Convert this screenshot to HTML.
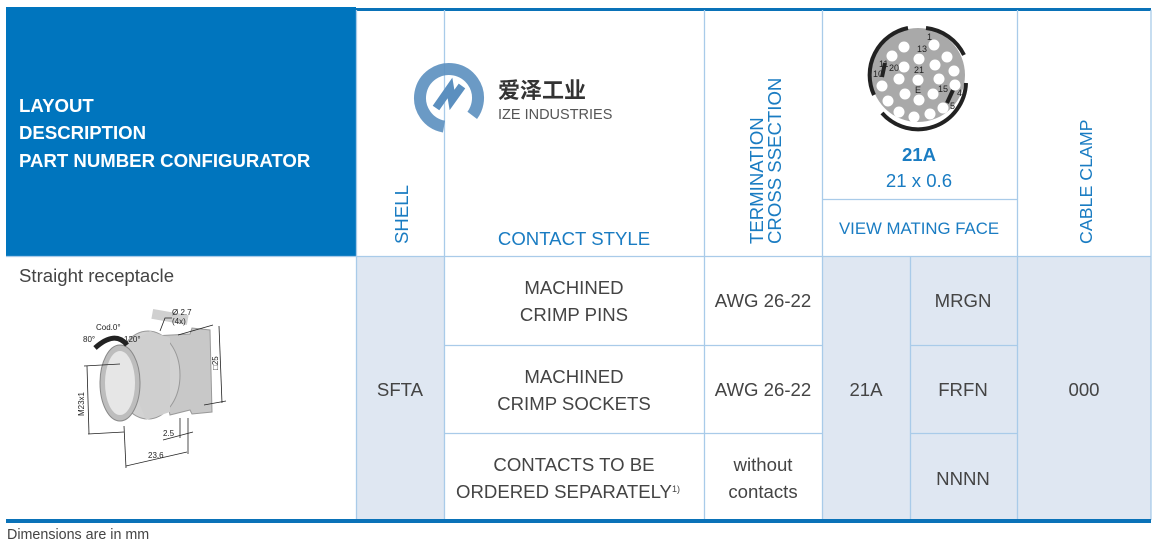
<!DOCTYPE html>
<html><head><meta charset="utf-8"><style>
html,body{margin:0;padding:0;background:#fff;}
svg{display:block;font-family:"Liberation Sans","Noto Sans CJK SC",sans-serif;}
</style></head><body>
<svg width="1160" height="543" viewBox="0 0 1160 543" xmlns="http://www.w3.org/2000/svg">
<rect x="356" y="256" width="88" height="264" fill="#dfe7f2"/>
<rect x="822" y="256" width="329" height="264" fill="#dfe7f2"/>
<rect x="6" y="7" width="350" height="249" fill="#0075be"/>
<rect x="356" y="8" width="795" height="3" fill="#0a72b8"/>
<g stroke="#a9cbe9" stroke-width="1.3" fill="none">
<line x1="6" y1="256.5" x2="1151" y2="256.5"/>
<line x1="356.5" y1="10" x2="356.5" y2="520"/>
<line x1="444.5" y1="10" x2="444.5" y2="520"/>
<line x1="704.5" y1="10" x2="704.5" y2="520"/>
<line x1="822.5" y1="10" x2="822.5" y2="520"/>
<line x1="910.5" y1="256" x2="910.5" y2="520"/>
<line x1="1017.5" y1="10" x2="1017.5" y2="520"/>
<line x1="1151" y1="10" x2="1151" y2="520"/>
<line x1="822" y1="199.5" x2="1017" y2="199.5"/>
<line x1="444" y1="345.5" x2="822" y2="345.5"/>
<line x1="444" y1="433.5" x2="822" y2="433.5"/>
<line x1="910" y1="345.5" x2="1017" y2="345.5"/>
<line x1="910" y1="433.5" x2="1017" y2="433.5"/>
</g>
<rect x="6" y="519" width="1145" height="4" fill="#0a72b8"/>
<g fill="#fff" font-weight="bold" font-size="18.6">
<text x="19" y="112">LAYOUT</text>
<text x="19" y="139">DESCRIPTION</text>
<text x="19" y="167">PART NUMBER CONFIGURATOR</text>
</g>
<g fill="#1a7cc2" font-size="18.6">
<text transform="translate(408,244) rotate(-90)">SHELL</text>
<text x="574" y="245" text-anchor="middle">CONTACT STYLE</text>
<text transform="translate(763,244) rotate(-90)">TERMINATION</text>
<text transform="translate(781,244) rotate(-90)">CROSS SSECTION</text>
<text transform="translate(1092,244) rotate(-90)" font-size="17.8">CABLE CLAMP</text>
<text x="919" y="234" text-anchor="middle" font-size="16.8">VIEW MATING FACE</text>
<text x="919" y="161" text-anchor="middle" font-weight="bold">21A</text>
<text x="919" y="187" text-anchor="middle">21 x 0.6</text>
</g>
<g>
<circle cx="449" cy="98" r="29" fill="none" stroke="#5b8fbf" stroke-width="12" stroke-dasharray="150 32" transform="rotate(100 449 98)" opacity="0.9"/>
<path d="M436 108 L450 88 L452 100 L462 86" stroke="#5b8fbf" stroke-width="8" fill="none"/>
<text x="498" y="98" font-size="22" fill="#333" font-family="'Noto Sans CJK SC',sans-serif" font-weight="bold">爱泽工业</text>
<text x="498" y="119" font-size="14.5" fill="#555">IZE INDUSTRIES</text>
</g>
<g transform="translate(0,5)">
<circle cx="918" cy="70" r="47" fill="#a9a9a9"/>
<g stroke="#222" stroke-width="4" fill="none">
<path d="M874 90 A48 48 0 0 1 908 23"/>
<path d="M926 23 A48 48 0 0 1 964 50"/>
<path d="M966 78 A48 48 0 0 1 882 108"/>
<line x1="885" y1="58" x2="882" y2="72"/>
<line x1="953" y1="85" x2="947" y2="98"/>
</g>
<g fill="#fff">
<circle cx="904" cy="42" r="5.5"/><circle cx="934" cy="40" r="5.5"/><circle cx="947" cy="52" r="5.5"/>
<circle cx="954" cy="66" r="5.5"/><circle cx="955" cy="80" r="5.5"/><circle cx="943" cy="103" r="5.5"/>
<circle cx="930" cy="109" r="5.5"/><circle cx="914" cy="112" r="5.5"/><circle cx="899" cy="107" r="5.5"/>
<circle cx="888" cy="96" r="5.5"/><circle cx="882" cy="81" r="5.5"/><circle cx="892" cy="51" r="5.5"/>
<circle cx="919" cy="54" r="5.5"/><circle cx="904" cy="62" r="5.5"/><circle cx="935" cy="60" r="5.5"/>
<circle cx="939" cy="74" r="5.5"/><circle cx="933" cy="89" r="5.5"/><circle cx="919" cy="95" r="5.5"/>
<circle cx="905" cy="89" r="5.5"/><circle cx="899" cy="74" r="5.5"/><circle cx="918" cy="75" r="5.5"/>
</g>
<g font-size="9" fill="#222">
<text x="927" y="35">1</text><text x="917" y="47">13</text><text x="879" y="62">11</text>
<text x="889" y="66">20</text><text x="914" y="68">21</text><text x="873" y="72">10</text>
<text x="915" y="88">E</text><text x="938" y="87">15</text><text x="957" y="91">4</text><text x="950" y="104">5</text>
</g>
</g>
<g fill="#444" font-size="18.6">
<text x="19" y="282">Straight receptacle</text>
<text x="400" y="396" text-anchor="middle">SFTA</text>
<text x="574" y="294" text-anchor="middle">MACHINED</text>
<text x="574" y="321" text-anchor="middle">CRIMP PINS</text>
<text x="574" y="383" text-anchor="middle">MACHINED</text>
<text x="574" y="410" text-anchor="middle">CRIMP SOCKETS</text>
<text x="574" y="471" text-anchor="middle">CONTACTS TO BE</text>
<text x="568" y="498" text-anchor="middle">ORDERED SEPARATELY<tspan font-size="9" dy="-6">1)</tspan></text>
<text x="763" y="307" text-anchor="middle">AWG 26-22</text>
<text x="763" y="396" text-anchor="middle">AWG 26-22</text>
<text x="763" y="471" text-anchor="middle">without</text>
<text x="763" y="498" text-anchor="middle">contacts</text>
<text x="866" y="396" text-anchor="middle">21A</text>
<text x="963" y="307" text-anchor="middle">MRGN</text>
<text x="963" y="396" text-anchor="middle">FRFN</text>
<text x="963" y="485" text-anchor="middle">NNNN</text>
<text x="1084" y="396" text-anchor="middle">000</text>
</g>
<text x="7" y="539" font-size="14.3" fill="#444">Dimensions are in mm</text>
<g>
<path d="M153 336 L190 334 L192 328 L210 330 L212 412 L192 414 L190 410 L170 415 Z" fill="#c8c8c8" stroke="#999"/>
<rect x="152" y="312" width="36" height="10" fill="#d0d0d0" transform="rotate(10 170 317)"/>
<ellipse cx="148" cy="375" rx="32" ry="44" fill="#d2d2d2" stroke="#999"/>
<path d="M118 350 L150 331 L170 338 L170 412 L146 420 Z" fill="#cfcfcf"/>
<ellipse cx="120" cy="383" rx="20" ry="38" fill="#bdbdbd" stroke="#888"/>
<ellipse cx="120" cy="383" rx="15" ry="32" fill="#e6e6e6"/>
<g stroke="#222" stroke-width="0.8" fill="none">
<line x1="84" y1="366" x2="120" y2="364"/><line x1="88" y1="434" x2="124" y2="432"/>
<line x1="87" y1="366" x2="89" y2="434"/>
<line x1="178" y1="335" x2="213" y2="325"/><line x1="204" y1="405" x2="226" y2="401"/>
<line x1="219" y1="326" x2="222" y2="403"/>
<line x1="124" y1="426" x2="126" y2="468"/><line x1="188" y1="418" x2="188" y2="454"/>
<line x1="126" y1="466" x2="187" y2="452"/>
<line x1="180" y1="418" x2="180" y2="438"/><line x1="163" y1="440" x2="193" y2="432"/>
<path d="M160 331 L165 318 L172 318"/>
</g>
<path d="M95 348 Q115 330 127 345" stroke="#222" stroke-width="5" fill="none"/>
<g font-size="8" fill="#222">
<text x="96" y="330">Cod.0°</text><text x="83" y="342">80°</text><text x="124" y="342">120°</text>
<text x="172" y="315">Ø 2.7</text><text x="172" y="324">(4x)</text>
<text x="163" y="436">2.5</text><text x="148" y="458">23.6</text>
<text transform="translate(84,416) rotate(-90)">M23x1</text>
<text transform="translate(218,370) rotate(-90)">□25</text>
</g>
</g>
</svg>
</body></html>
